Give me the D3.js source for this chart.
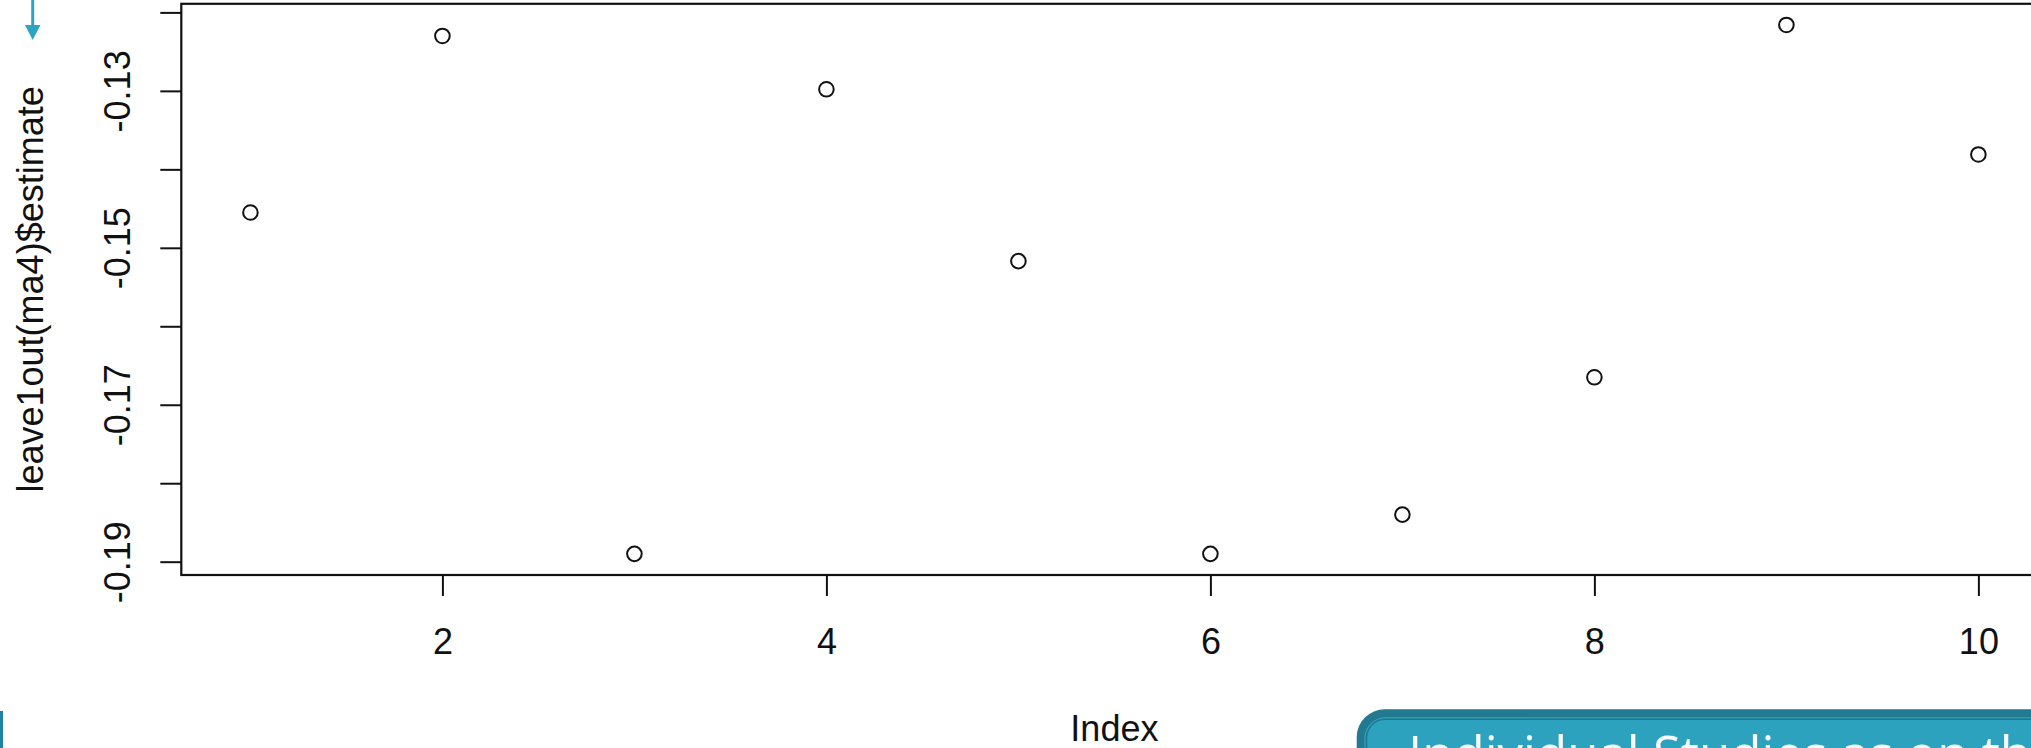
<!DOCTYPE html>
<html>
<head>
<meta charset="utf-8">
<script src="https://cdn.jsdelivr.net/npm/d3@7"></script>
<style>
  html, body { margin: 0; padding: 0; background: #ffffff; overflow: hidden; }
  svg { display: block; }
</style>
</head>
<body>
<svg id="chart" width="2031" height="748"></svg>
<script>
// Leave-one-out estimates, one per omitted study
const studyIndex = [1, 2, 3, 4, 5, 6, 7, 8, 9, 10];
const estimates = [-0.1455, -0.1230, -0.1890, -0.1298, -0.1517, -0.1890, -0.1840, -0.1665, -0.1216, -0.1381];

const xTicks = [2, 4, 6, 8, 10];
const yTicks = [-0.19, -0.18, -0.17, -0.16, -0.15, -0.14, -0.13, -0.12];
const yTickLabels = ["-0.19", "", "-0.17", "", "-0.15", "", "-0.13", ""];

const xTitle = "Index";
const yTitle = "leave1out(ma4)$estimate";
const calloutText = "Individual Studies as on the";

const W = 2031, H = 748;
const plot = { left: 181.3, right: 2047.5, top: 3.8, bottom: 575 };
const fontFamily = "'Liberation Sans', Arial, sans-serif";

const svg = d3.select("#chart");

// R-style axis limits: data range padded by 4% on each side
function padded(ext) {
  const r = ext[1] - ext[0];
  return [ext[0] - 0.04 * r, ext[1] + 0.04 * r];
}

const x = d3.scaleLinear()
  .domain(padded(d3.extent(studyIndex)))
  .range([plot.left, plot.right]);

const y = d3.scaleLinear()
  .domain(padded(d3.extent(estimates)))
  .range([plot.bottom, plot.top]);

// x axis
const xAxis = svg.append("g")
  .attr("transform", `translate(0,${plot.bottom})`)
  .call(d3.axisBottom(x).tickValues(xTicks).tickSize(21).tickFormat(d3.format("d")));
xAxis.select(".domain").remove();
xAxis.selectAll(".tick line").attr("stroke", "#111").attr("stroke-width", 2);
xAxis.selectAll(".tick text")
  .attr("y", 79).attr("dy", 0)
  .attr("fill", "#111")
  .style("font-family", fontFamily)
  .style("font-size", "36px");

// y axis with rotated labels
const yAxis = svg.append("g")
  .attr("transform", `translate(${plot.left},0)`)
  .call(d3.axisLeft(y).tickValues(yTicks).tickSize(21)
    .tickFormat((d, i) => yTickLabels[i]));
yAxis.select(".domain").remove();
yAxis.selectAll(".tick line").attr("stroke", "#111").attr("stroke-width", 2);
yAxis.selectAll(".tick text")
  .attr("x", 0).attr("dy", 0)
  .attr("transform", "translate(-51.7,0) rotate(-90)")
  .attr("text-anchor", "middle")
  .attr("fill", "#111")
  .style("font-family", fontFamily)
  .style("font-size", "36px");

// plot frame
svg.append("rect")
  .attr("x", plot.left).attr("y", plot.top)
  .attr("width", plot.right - plot.left)
  .attr("height", plot.bottom - plot.top)
  .attr("fill", "none")
  .attr("stroke", "#111")
  .attr("stroke-width", 2.2);

// points (open circles)
svg.append("g").selectAll("circle")
  .data(studyIndex)
  .join("circle")
  .attr("cx", d => x(d))
  .attr("cy", (d, i) => y(estimates[i]))
  .attr("r", 7.3)
  .attr("fill", "none")
  .attr("stroke", "#111")
  .attr("stroke-width", 2);

// axis titles
svg.append("text")
  .attr("x", (plot.left + plot.right) / 2)
  .attr("y", 741)
  .attr("text-anchor", "middle")
  .attr("fill", "#111")
  .style("font-family", fontFamily)
  .style("font-size", "36px")
  .text(xTitle);

svg.append("text")
  .attr("transform", `translate(43,${(plot.top + plot.bottom) / 2}) rotate(-90)`)
  .attr("text-anchor", "middle")
  .attr("fill", "#111")
  .style("font-family", fontFamily)
  .style("font-size", "36px")
  .text(yTitle);

// slide decorations: arrow at top left
svg.append("line")
  .attr("x1", 32.7).attr("y1", 0)
  .attr("x2", 32.7).attr("y2", 27)
  .attr("stroke", "#2ea4c3").attr("stroke-width", 3);
svg.append("path")
  .attr("d", "M25,25 L40.5,25 L32.7,40 Z")
  .attr("fill", "#2ea4c3");

// left edge bar
svg.append("rect")
  .attr("x", 0).attr("y", 711)
  .attr("width", 3).attr("height", 37)
  .attr("fill", "#1b84a1");

// callout box
const box = svg.append("g");
box.append("rect")
  .attr("x", 1356.7).attr("y", 709.3)
  .attr("width", 900).attr("height", 140)
  .attr("rx", 28)
  .attr("fill", "#217a90");
box.append("rect")
  .attr("x", 1364.5).attr("y", 717.3)
  .attr("width", 900).attr("height", 140)
  .attr("rx", 21)
  .attr("fill", "#36a9c6");
box.append("rect")
  .attr("x", 1365.5).attr("y", 718.3)
  .attr("width", 900).attr("height", 140)
  .attr("rx", 20)
  .attr("fill", "#1f7a90");
box.append("rect")
  .attr("x", 1367.3).attr("y", 720)
  .attr("width", 900).attr("height", 140)
  .attr("rx", 18)
  .attr("fill", "#2da2bf");
box.append("text")
  .attr("x", 1408)
  .attr("y", 773)
  .attr("fill", "#f7fbfc")
  .style("font-family", "'Open Sans', 'Noto Sans', sans-serif")
  .style("font-size", "51px")
  .text(calloutText);
</script>
</body>
</html>
